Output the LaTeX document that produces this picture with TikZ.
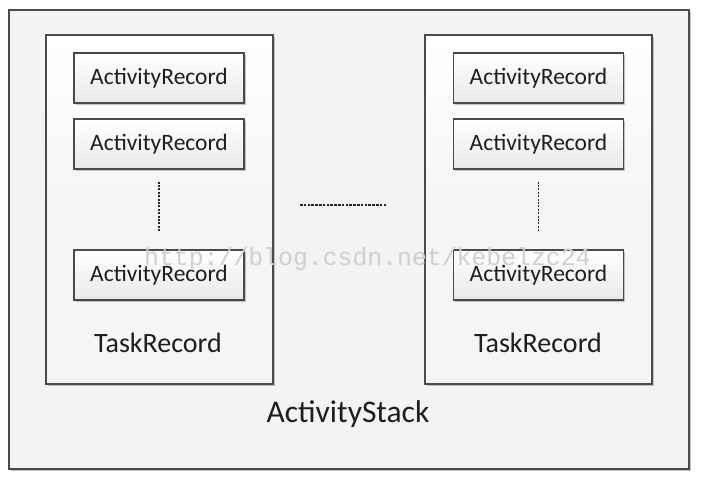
\documentclass[tikz,border=0pt]{standalone}
\usepackage{fontspec}
\setmainfont{Carlito}
\newfontfamily\wmfont{Liberation Mono}
\usetikzlibrary{shadows,calc}
\definecolor{edgegray}{HTML}{4A4A4A}
\definecolor{outerfill}{HTML}{F3F3F3}
\definecolor{taskfill}{HTML}{F5F5F5}
\definecolor{recbottom}{HTML}{E9E9E9}
\definecolor{wmgray}{HTML}{CFCFCF}
\definecolor{txt}{HTML}{1E1E1E}
\tikzset{
  boxshadow/.style={drop shadow={shadow xshift=1.6pt,shadow yshift=-1.6pt,fill=black!45,opacity=.5}},
  outerbox/.style={draw=edgegray,line width=1.3pt,fill=outerfill,boxshadow,minimum width=680pt,minimum height=459pt,inner sep=0pt},
  taskbox/.style={draw=edgegray,line width=1.3pt,top color=white,bottom color=taskfill,middle color=taskfill,boxshadow,minimum width=227pt,minimum height=349pt,inner sep=0pt},
  recbox/.style={draw=edgegray,line width=1.3pt,top color=white,bottom color=recbottom,boxshadow,minimum width=170pt,minimum height=50pt,inner sep=0pt,font=\fontsize{23.5}{26}\selectfont,text=txt},
  tasklabel/.style={font=\fontsize{28}{32}\selectfont,text=txt,anchor=base,inner sep=0pt},
  stacklabel/.style={font=\fontsize{31.5}{36}\selectfont,text=txt,anchor=base,inner sep=0pt},
  dotline/.style={draw=black!85,line width=1.6pt,dash pattern=on 2pt off 1.4pt},
  dashline/.style={draw=black!85,line width=1.3pt,dash pattern=on 2.6pt off 1.2pt},
}
\begin{document}
\begin{tikzpicture}[x=1pt,y=-1pt]
\useasboundingbox[fill=white] (0,0) rectangle (704,483);
\node[outerbox] (stack) at (349,239.5) {};
\node[taskbox] (taskL) at (159.5,209.5) {};
\node[taskbox] (taskR) at (538.5,209.5) {};
\node[recbox] (l1) at (159,78) {ActivityRecord};
\node[recbox] (l2) at (159,144) {ActivityRecord};
\node[recbox] (l3) at (159,275) {ActivityRecord};
\node[recbox] (r1) at (538.5,78) {ActivityRecord};
\node[recbox] (r2) at (538.5,144) {ActivityRecord};
\node[recbox] (r3) at (538.5,275) {ActivityRecord};
\node[tasklabel] (tlL) at (158,352) {TaskRecord};
\node[tasklabel] (tlR) at (538,352) {TaskRecord};
\node[stacklabel] (sl) at (348,422) {ActivityStack};
\coordinate (vLa) at ($(l2.south)+(0,12)$);
\coordinate (vLb) at ($(l3.north)+(0,-17)$);
\coordinate (vRa) at ($(r2.south)+(0,12)$);
\coordinate (vRb) at ($(r3.north)+(0,-17)$);
\draw[dotline] (vLa) -- (vLb);
\draw[dotline] (vRa) -- (vRb);
\coordinate (hA) at (300,205);
\coordinate (hB) at (387,205);
\draw[dashline] (hA) -- (hB);
\node[anchor=base west,inner sep=0pt,text=wmgray,font=\wmfont\fontsize{24.8}{28}\selectfont] (wm) at (144,265) {http://blog.csdn.net/kebelzc24};
\end{tikzpicture}
\end{document}
